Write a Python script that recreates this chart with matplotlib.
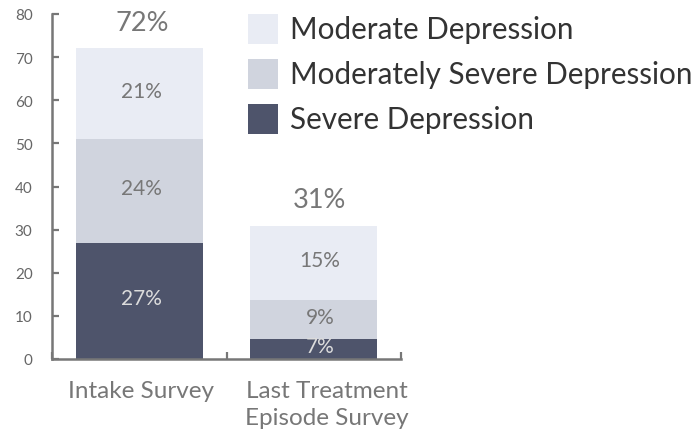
import matplotlib
matplotlib.use("Agg")
import matplotlib.pyplot as plt
from matplotlib.patches import Rectangle

plt.rcParams["font.family"] = ["Lato", "DejaVu Sans"]

categories = ["Intake Survey", "Last Treatment\nEpisode Survey"]
series = ["Severe Depression", "Moderately Severe Depression", "Moderate Depression"]
# bar heights as drawn in the picture
severe = [26.9, 4.6]
mod_severe = [24.1, 9.1]
moderate = [21.1, 17.2]
# labels printed on the picture
severe_lbl = ["27%", "7%"]
mod_severe_lbl = ["24%", "9%"]
moderate_lbl = ["21%", "15%"]
total_lbl = ["72%", "31%"]

colors = ["#4e546b", "#d0d4de", "#e9ecf4"]
label_colors = ["#dcdcdc", "#777777", "#777777"]

W, H = 700, 431
fig = plt.figure(figsize=(7, 4.31), dpi=100)
ax = fig.add_axes([52 / W, (H - 360) / H, (401 - 52) / W, 345 / H])

x = [0, 1]
# text in the original sits a little right of the bar centres
lbl_x = [0.015, 1.035]
bottom = [0, 0]
for vals, lbls, c, lc in zip([severe, mod_severe, moderate],
                             [severe_lbl, mod_severe_lbl, moderate_lbl],
                             colors, label_colors):
    ax.bar(x, vals, bottom=bottom, width=0.73, color=c, linewidth=0)
    for xi, v, b, t in zip(lbl_x, vals, bottom, lbls):
        ax.text(xi, b + v / 2 + 0.7, t, ha="center", va="center",
                fontsize=15, color=lc)
    bottom = [b + v for b, v in zip(bottom, vals)]

for xi, b, t in zip(lbl_x, bottom, total_lbl):
    ax.text(xi, b + 6.0, t, ha="center", va="center", fontsize=19.5, color="#777777")

ax.set_xlim(-0.5, 1.5)
ax.set_ylim(0, 80)
ax.set_yticks(range(0, 81, 10))
ax.set_xticks([-0.5, 0.5, 1.5])
ax.set_xticklabels([])
ax.set_xticks([0.01, 1.075], minor=True)
ax.set_xticklabels(categories, minor=True, fontsize=17.5, color="#777777",
                   linespacing=1.35, va="top")
ax.tick_params(axis="x", which="minor", length=0, pad=15)
ax.tick_params(axis="x", which="major", direction="in", length=5, width=1.6,
               color="#777777")
ax.tick_params(axis="y", direction="in", length=5, width=1.6, color="#777777",
               labelcolor="#666666", labelsize=11, pad=14)

for s in ["top", "right"]:
    ax.spines[s].set_visible(False)
for s in ["left", "bottom"]:
    ax.spines[s].set_color("#777777")
    ax.spines[s].set_linewidth(1.8)

# legend, drawn in figure pixels
legend_order = [2, 1, 0]
for row, i in enumerate(legend_order):
    top = 15 + row * 45
    fig.patches.append(Rectangle((248 / W, (H - top - 30) / H), 30 / W, 30 / H,
                                 transform=fig.transFigure, color=colors[i],
                                 linewidth=0))
    fig.text(290 / W, (H - top - 15) / H, series[i], ha="left", va="center",
             fontsize=21.3, color="#333333")

fig.savefig("out.png", dpi=100)
